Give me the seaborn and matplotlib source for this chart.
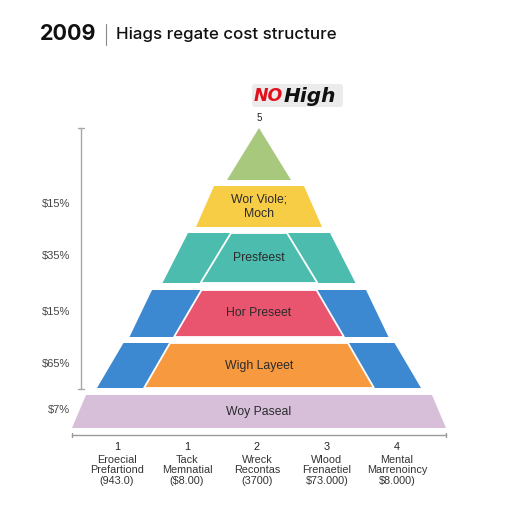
import numpy as np
import matplotlib
matplotlib.use("Agg")
import matplotlib.pyplot as plt
import seaborn as sns
from matplotlib.patches import FancyBboxPatch

# Tier data (top to bottom)
tier_labels = ["", "Wor Viole;\nMoch", "Presfeest", "Hor Preseet", "Wigh Layeet", "Woy Paseal"]
tier_pct = ["", "$15%", "$35%", "$15%", "$65%", "$7%"]
tier_fill = ["#a8c87e", "#f8cd46", "#4cbcaf", "#e9546e", "#f79a3f", "#d7bfda"]
tier_side = [None, None, "#4cbcaf", "#3c88d1", "#3c88d1", None]

# Bottom categories
col_ranks = ["1", "1", "2", "3", "4"]
col_names = ["Eroecial\nPrefartiond", "Tack\nMemnatial", "Wreck\nRecontas",
             "Wlood\nFrenaetiel", "Mental\nMarrenoincy"]
col_costs = ["(943.0)", "($8.00)", "(3700)", "$73.000)", "$8.000)"]

# Layout (pixel space of the 512x512 image)
cx = 259
tops = [128, 186, 233, 290, 343, 395]
bottoms = [180, 227, 283, 337, 388, 428]
top_half = [0, 45, 71, 107, 135.5, 173]
bot_half = [32, 63, 96.5, 129.5, 162, 187]
inner_top = [0, 0, 28, 57.5, 89, 0]
inner_bot = [0, 0, 58.5, 85, 115, 0]

sns.set_theme(style="white")
plt.rcParams['font.family'] = ['Liberation Sans', 'DejaVu Sans']

fig = plt.figure(figsize=(5.12, 5.12), dpi=100)
ax = fig.add_axes([0, 0, 1, 1])
ax.set_xlim(0, 512)
ax.set_ylim(512, 0)
ax.axis("off")

text_col = "#2b2b2b"
for i in range(len(tier_labels)):
    t, b = tops[i], bottoms[i]
    th, bh = top_half[i], bot_half[i]
    ax.fill([cx - th, cx + th, cx + bh, cx - bh], [t, t, b, b],
            color=tier_fill[i] if tier_side[i] is None else tier_side[i], lw=0)
    if tier_side[i] is not None:
        it, ib = inner_top[i], inner_bot[i]
        ax.fill([cx - it, cx + it, cx + ib, cx - ib], [t, t, b, b],
                facecolor=tier_fill[i], edgecolor="white", lw=1.3)
    if tier_labels[i]:
        ax.text(cx, (t + b) / 2, tier_labels[i], ha="center", va="center",
                fontsize=8.8, color=text_col, linespacing=1.25)
    if tier_pct[i]:
        ax.text(70, (t + b) / 2 - 2, tier_pct[i], ha="right", va="center",
                fontsize=8, color="#444444")

# left vertical axis
ax.plot([81, 81], [128, 389], color="#a8a8a8", lw=1)
ax.plot([78, 84], [128, 128], color="#a8a8a8", lw=1)
ax.plot([78, 84], [389, 389], color="#a8a8a8", lw=1)

# bottom axis
ax.plot([72, 446], [435, 435], color="#9a9a9a", lw=1)
ax.plot([72, 72], [433, 437], color="#9a9a9a", lw=1)
ax.plot([446, 446], [433, 437], color="#9a9a9a", lw=1)

xs = np.linspace(117, 397, len(col_ranks))
for x, r, n, c in zip(xs, col_ranks, col_names, col_costs):
    ax.text(x, 447, r, ha="center", va="center", fontsize=7.8, color="#222222")
    ax.text(x, 465, n, ha="center", va="center", fontsize=7.8, color="#333333",
            linespacing=1.0)
    ax.text(x, 481, c, ha="center", va="center", fontsize=7.8, color="#333333")

# title
ax.text(40, 34, "2009", ha="left", va="center", fontsize=15.5, fontweight="bold",
        family=["Inter", "DejaVu Sans"], color="#111111")
ax.plot([106, 106], [24, 45], color="#888888", lw=0.8)
ax.text(116, 34, "Hiags regate cost structure", ha="left", va="center",
        fontsize=12.2, family=["Inter", "DejaVu Sans"], fontweight="medium",
        color="#111111")

# badge
badge = FancyBboxPatch((252, 84), 91, 23, boxstyle="round,pad=0,rounding_size=3",
                       facecolor="#ebebeb", edgecolor="none")
ax.add_patch(badge)
ax.text(254, 96, "NO", ha="left", va="center", fontsize=12.5, fontweight="heavy",
        style="italic", family=["DejaVu Sans"], color="#e3101c")
ax.text(284, 96, "High", ha="left", va="center", fontsize=14.5, fontweight="heavy",
        style="italic", family=["DejaVu Sans"], color="#111111")
ax.text(259, 118, "5", ha="center", va="center", fontsize=7, color="#222222")

fig.savefig("out.png", dpi=100, facecolor="white")
